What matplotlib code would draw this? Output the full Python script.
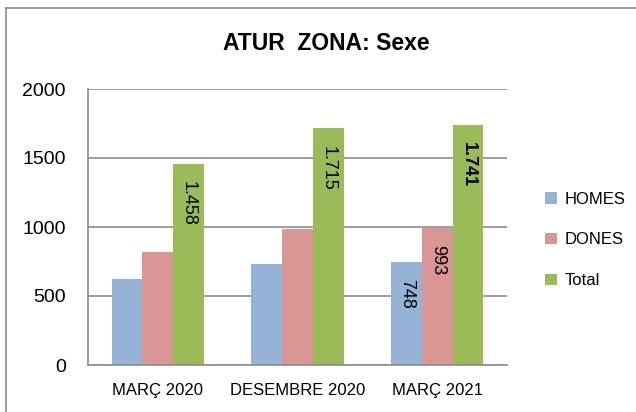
import matplotlib
matplotlib.use("Agg")
import matplotlib.pyplot as plt
from matplotlib.lines import Line2D
import numpy as np

plt.rcParams['font.family'] = ['Liberation Sans', 'DejaVu Sans']

categories = ["MARÇ 2020", "DESEMBRE 2020", "MARÇ 2021"]
series_names = ["HOMES", "DONES", "Total"]
homes = [621, 730, 748]
dones = [821, 985, 993]
total = [1458, 1715, 1741]
colors = ["#95B3D7", "#D99694", "#9BBB59"]
yticks = [0, 500, 1000, 1500, 2000]

fig = plt.figure(figsize=(6.36, 4.12), dpi=100)
ax = fig.add_axes([88/636, 1 - 365/412, (507-88)/636, (365-89)/412])

x = np.arange(len(categories))
w = 0.22
series = [homes, dones, total]
bars = []
for i, (vals, c, name) in enumerate(zip(series, colors, series_names)):
    b = ax.bar(x + (i - 1) * w, vals, width=w, color=c, label=name, zorder=2)
    bars.append(b)

ax.set_xlim(-0.5, 2.5)
ax.set_ylim(0, 2000)
ax.set_yticks(yticks)
ax.set_yticklabels([str(t) for t in yticks], fontsize=14)
ax.set_xticks(x)
ax.set_xticklabels(categories, fontsize=12)
ax.tick_params(axis='y', length=0, pad=16)
ax.tick_params(axis='x', length=0, pad=13)
ax.grid(axis='y', color='#8c8c8c', linewidth=1.2, zorder=0)
for s in ['top', 'right']:
    ax.spines[s].set_visible(False)
for s in ['left', 'bottom']:
    ax.spines[s].set_color('#8c8c8c')
    ax.spines[s].set_linewidth(1.2)

# data labels
def label(bar, text, bold=False):
    rx = bar.get_x() + bar.get_width() / 2
    ry = bar.get_height()
    ax.annotate(text, (rx, ry), xytext=(0, -12.5), textcoords='offset points',
                rotation=-90, ha='center', va='top', fontsize=13,
                fontweight='bold' if bold else 'normal', zorder=3)

label(bars[2][0], "1.458")
label(bars[2][1], "1.715")
label(bars[2][2], "1.741", bold=True)
label(bars[0][2], "748")
label(bars[1][2], "993")

fig.text(326/636, 1 - 44/412, "ATUR  ZONA: Sexe", fontsize=16.5, fontweight='bold',
         ha='center', va='center')

leg = fig.legend(handles=[b for b in bars], labels=series_names,
                 loc='center left', bbox_to_anchor=(530/636, 1 - 240/412),
                 frameon=False, fontsize=12, handlelength=0.7, handleheight=0.7,
                 labelspacing=1.55, handletextpad=0.5)

# chart border (left and top visible)
fig.add_artist(Line2D([5.5/636, 5.5/636], [0, 1 - 8/412], transform=fig.transFigure,
                      color='#8c8c8c', linewidth=1.2))
fig.add_artist(Line2D([5.5/636, 1], [1 - 8/412, 1 - 8/412], transform=fig.transFigure,
                      color='#8c8c8c', linewidth=1.2))

fig.savefig("out.png", dpi=100)
